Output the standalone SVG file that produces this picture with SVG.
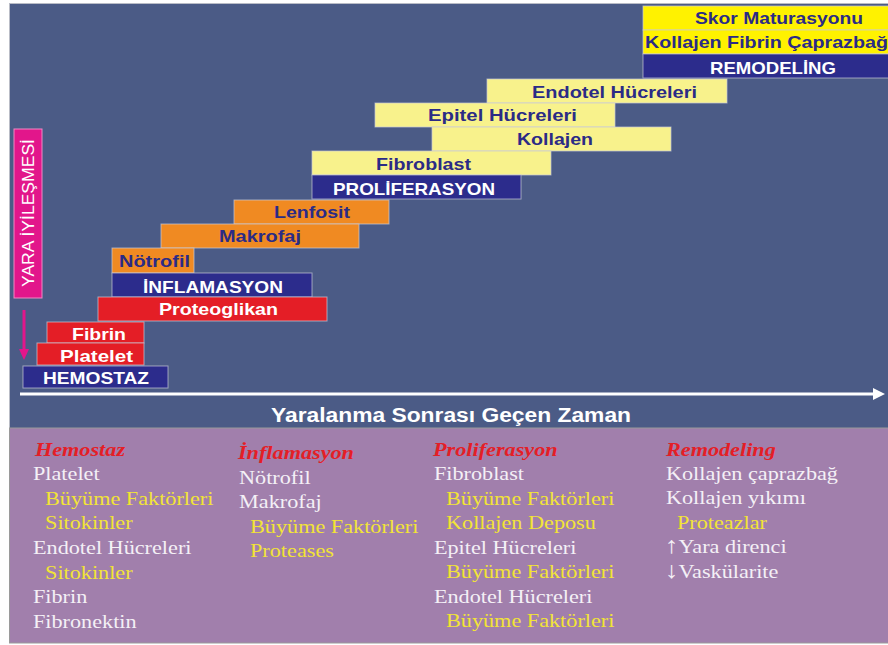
<svg xmlns="http://www.w3.org/2000/svg" width="888" height="645" viewBox="0 0 888 645">
<defs>
<style>
.bar{stroke:#c9cbd8;stroke-width:1;stroke-opacity:0.7}
.blue{fill:#2c2c8c}
.red{fill:#e41e26}
.orange{fill:#f08a22}
.pale{fill:#f8f28c}
.bright{fill:#fff200}
.lbl{font-family:"Liberation Sans",Arial,sans-serif;font-weight:bold;font-size:17px}
.w{fill:#ffffff}
.n{fill:#2b2b86}
.bt{font-family:"Liberation Serif","Times New Roman",serif;font-size:19px}
.hd{fill:#e41e26;font-weight:bold;font-style:italic}
.it{fill:#f4f0f6}
.sub{fill:#f2e436}
.arr{font-size:23px}
</style>
</defs>
<rect x="0" y="0" width="888" height="645" fill="#ffffff"/>
<rect x="9.5" y="3.5" width="880" height="425" fill="#4b5b86" stroke="#b9bcc6" stroke-width="1"/>
<rect x="9.5" y="428" width="880" height="215" fill="#a17fac" stroke="#9a9a9a" stroke-width="1"/>

<g id="skor"><rect class="bar bright" x="643" y="6" width="246" height="24"/><text class="lbl n" x="695" y="24" textLength="168" lengthAdjust="spacingAndGlyphs">Skor Maturasyonu</text></g>
<g id="kollajen-fibrin"><rect class="bar bright" x="643" y="30" width="246" height="24"/><text class="lbl n" x="645" y="48" textLength="243" lengthAdjust="spacingAndGlyphs">Kollajen Fibrin Çaprazbağ</text></g>
<g id="remodeling"><rect class="bar blue" x="643" y="54" width="246" height="24"/><text class="lbl w" x="710" y="74" textLength="126" lengthAdjust="spacingAndGlyphs">REMODELİNG</text></g>

<g id="endotel"><rect class="bar pale" x="487" y="79" width="240" height="24"/><text class="lbl n" x="532" y="98" textLength="165" lengthAdjust="spacingAndGlyphs">Endotel Hücreleri</text></g>
<g id="epitel"><rect class="bar pale" x="375" y="103" width="240" height="24"/><text class="lbl n" x="428" y="121" textLength="149" lengthAdjust="spacingAndGlyphs">Epitel Hücreleri</text></g>
<g id="kollajen"><rect class="bar pale" x="432" y="127" width="239" height="24"/><text class="lbl n" x="517" y="145" textLength="76" lengthAdjust="spacingAndGlyphs">Kollajen</text></g>
<g id="fibroblast"><rect class="bar pale" x="312" y="151" width="239" height="24"/><text class="lbl n" x="376" y="170" textLength="95" lengthAdjust="spacingAndGlyphs">Fibroblast</text></g>
<g id="proliferasyon"><rect class="bar blue" x="312" y="175" width="209" height="24"/><text class="lbl w" x="333" y="195" textLength="162" lengthAdjust="spacingAndGlyphs">PROLİFERASYON</text></g>

<g id="lenfosit"><rect class="bar orange" x="234" y="200" width="155" height="24"/><text class="lbl n" x="274" y="218" textLength="76" lengthAdjust="spacingAndGlyphs">Lenfosit</text></g>
<g id="makrofaj"><rect class="bar orange" x="161" y="224" width="198" height="24"/><text class="lbl n" x="219" y="242" textLength="82" lengthAdjust="spacingAndGlyphs">Makrofaj</text></g>
<g id="notrofil"><rect class="bar orange" x="112" y="248" width="82" height="25"/><text class="lbl n" x="119" y="267" textLength="71" lengthAdjust="spacingAndGlyphs">Nötrofil</text></g>
<g id="inflamasyon"><rect class="bar blue" x="112" y="273" width="200" height="24"/><text class="lbl w" x="143" y="293" textLength="140" lengthAdjust="spacingAndGlyphs">İNFLAMASYON</text></g>
<g id="proteoglikan"><rect class="bar red" x="98" y="297" width="229" height="24"/><text class="lbl w" x="159" y="315" textLength="119" lengthAdjust="spacingAndGlyphs">Proteoglikan</text></g>

<g id="fibrin"><rect class="bar red" x="47" y="322" width="97" height="21"/><text class="lbl w" x="72" y="340" textLength="54" lengthAdjust="spacingAndGlyphs">Fibrin</text></g>
<g id="platelet"><rect class="bar red" x="37" y="343" width="107" height="22"/><text class="lbl w" x="60" y="362" textLength="73" lengthAdjust="spacingAndGlyphs">Platelet</text></g>
<g id="hemostaz"><rect class="bar blue" x="23" y="366" width="145" height="22"/><text class="lbl w" x="43" y="384" textLength="106" lengthAdjust="spacingAndGlyphs">HEMOSTAZ</text></g>

<g id="yara-iyilesmesi"><rect x="14" y="129" width="28" height="169" fill="#e2168b" stroke="#f08ac4" stroke-width="1"/><text transform="translate(34,213) rotate(-90)" text-anchor="middle" font-family="'Liberation Sans',Arial,sans-serif" font-size="17" fill="#ffffff" textLength="148" lengthAdjust="spacingAndGlyphs">YARA İYİLEŞMESİ</text></g>

<g id="connectors">
<line x1="24" y1="310" x2="24" y2="350" stroke="#e2168b" stroke-width="3"/>
<polygon points="19,349 29,349 24,360" fill="#e2168b"/>
<line x1="20" y1="394" x2="874" y2="394" stroke="#ffffff" stroke-width="3"/>
<polygon points="873,388 885,394 873,400" fill="#ffffff"/>
</g>

<g id="axis-label"><text x="451" y="422" text-anchor="middle" font-family="'Liberation Sans',Arial,sans-serif" font-weight="bold" font-size="20" fill="#ffffff" textLength="360" lengthAdjust="spacingAndGlyphs">Yaralanma Sonrası Geçen Zaman</text></g>

<g transform="scale(1.17,1)" class="bt">
<g id="col-hemostaz">
<text class="hd" x="29.9" y="456">Hemostaz</text>
<text class="it" x="28.2" y="480">Platelet</text>
<text class="sub" x="38.5" y="505">Büyüme Faktörleri</text>
<text class="sub" x="38.5" y="529">Sitokinler</text>
<text class="it" x="28.2" y="554">Endotel Hücreleri</text>
<text class="sub" x="38.5" y="579">Sitokinler</text>
<text class="it" x="28.2" y="603">Fibrin</text>
<text class="it" x="28.2" y="628">Fibronektin</text>
</g>
<g id="col-inflamasyon">
<text class="hd" x="203.4" y="459">İnflamasyon</text>
<text class="it" x="204.3" y="484">Nötrofil</text>
<text class="it" x="204.3" y="508">Makrofaj</text>
<text class="sub" x="213.7" y="533">Büyüme Faktörleri</text>
<text class="sub" x="213.7" y="557">Proteases</text>
</g>
<g id="col-proliferasyon">
<text class="hd" x="370.1" y="456">Proliferasyon</text>
<text class="it" x="370.9" y="480">Fibroblast</text>
<text class="sub" x="381.2" y="505">Büyüme Faktörleri</text>
<text class="sub" x="381.2" y="529">Kollajen Deposu</text>
<text class="it" x="370.9" y="554">Epitel Hücreleri</text>
<text class="sub" x="381.2" y="578">Büyüme Faktörleri</text>
<text class="it" x="370.9" y="603">Endotel Hücreleri</text>
<text class="sub" x="381.2" y="627">Büyüme Faktörleri</text>
</g>
<g id="col-remodeling">
<text class="hd" x="569.2" y="456">Remodeling</text>
<text class="it" x="569.2" y="480">Kollajen çaprazbağ</text>
<text class="it" x="569.2" y="504">Kollajen yıkımı</text>
<text class="sub" x="578.6" y="529">Proteazlar</text>
<text class="it" x="568.4" y="553"><tspan class="arr">↑</tspan>Yara direnci</text>
<text class="it" x="568.4" y="578"><tspan class="arr">↓</tspan>Vaskülarite</text>
</g>
</g>
</svg>
